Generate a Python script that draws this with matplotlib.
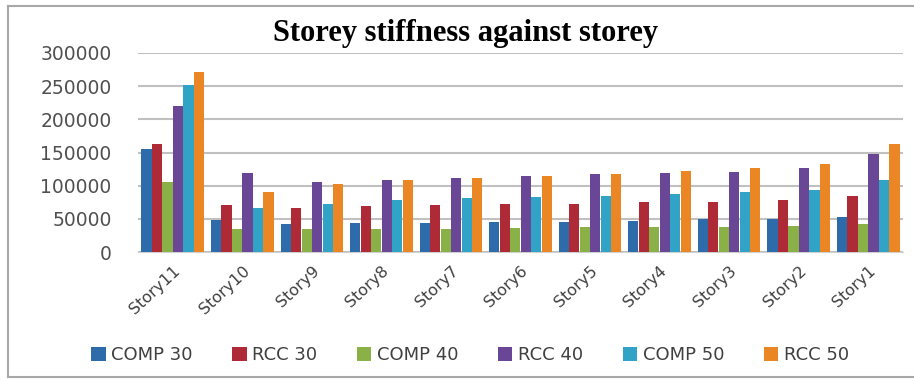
import numpy as np
import matplotlib
matplotlib.use('Agg')
import matplotlib.pyplot as plt
from matplotlib.patches import Patch
from matplotlib.lines import Line2D

stories = ['Story11', 'Story10', 'Story9', 'Story8', 'Story7', 'Story6',
           'Story5', 'Story4', 'Story3', 'Story2', 'Story1']
comp_30 = [156000, 48000, 42000, 44000, 44000, 45000, 45000, 47000, 49000, 50000, 53000]
rcc_30 = [163000, 71000, 67000, 70000, 71000, 72000, 73000, 75000, 76000, 79000, 84000]
comp_40 = [105000, 35000, 35000, 35000, 35000, 36000, 38000, 38000, 38000, 39000, 42000]
rcc_40 = [220000, 119000, 106000, 108000, 112000, 115000, 117000, 119000, 120000, 127000, 148000]
comp_50 = [252000, 66000, 73000, 78000, 81000, 83000, 84000, 87000, 90000, 93000, 108000]
rcc_50 = [271000, 91000, 102000, 108000, 112000, 115000, 117000, 122000, 127000, 133000, 163000]
series_names = ['COMP 30', 'RCC 30', 'COMP 40', 'RCC 40', 'COMP 50', 'RCC 50']
colors = ['#2D6BAA', '#AE2A36', '#8AB147', '#6A4696', '#31A3C6', '#EA8624']

series = [comp_30, rcc_30, comp_40, rcc_40, comp_50, rcc_50]

fig = plt.figure(figsize=(9.14, 3.8), dpi=100)
ax = fig.add_axes([138 / 914, 1 - 252 / 380, 765 / 914, 199 / 380])

x = np.arange(len(stories))
w = 0.151
for i, (vals, c) in enumerate(zip(series, colors)):
    ax.bar(x + (i - 2.5) * w, vals, width=w * 0.97, color=c, zorder=3)

ax.set_xlim(-0.5, len(stories) - 0.5)
ax.set_ylim(0, 300000)
ax.set_yticks(np.arange(0, 300001, 50000))
ax.yaxis.grid(True, color='#C0C0C0', linewidth=1.5, zorder=0)
for s in ['top', 'right', 'left']:
    ax.spines[s].set_visible(False)
ax.spines['bottom'].set_color('#D0D0D0')
ax.tick_params(axis='y', length=0, pad=19, labelsize=13.5, labelcolor='#505050')
ax.tick_params(axis='x', length=0, pad=8)
ax.set_xticks(x)
ax.set_xticklabels(stories, rotation=43, ha='right', rotation_mode='anchor',
                   fontsize=11.5, color='#404040')

fig.text(466 / 914, 1 - 34 / 380, 'Storey stiffness against storey',
         family='Liberation Serif', fontweight='bold', fontsize=22,
         ha='center', va='center')

handles = [Patch(facecolor=c, edgecolor='none') for c in colors]
fig.legend(handles, series_names, loc='center', bbox_to_anchor=(470 / 914, 1 - 355 / 380),
           ncol=6, frameon=False, fontsize=13, handlelength=0.8, handleheight=0.8,
           handletextpad=0.3, columnspacing=2.2, labelcolor='#404040')

# chart border (left, top, bottom)
border = dict(color='#A8A8A8', linewidth=1.5, transform=fig.transFigure)
fig.add_artist(Line2D([8 / 914, 8 / 914], [1 - 6 / 380, 1 - 377 / 380], **border))
fig.add_artist(Line2D([8 / 914, 1], [1 - 6 / 380, 1 - 6 / 380], **border))
fig.add_artist(Line2D([8 / 914, 1], [1 - 377 / 380, 1 - 377 / 380], **border))

fig.savefig('out.png', dpi=100)
